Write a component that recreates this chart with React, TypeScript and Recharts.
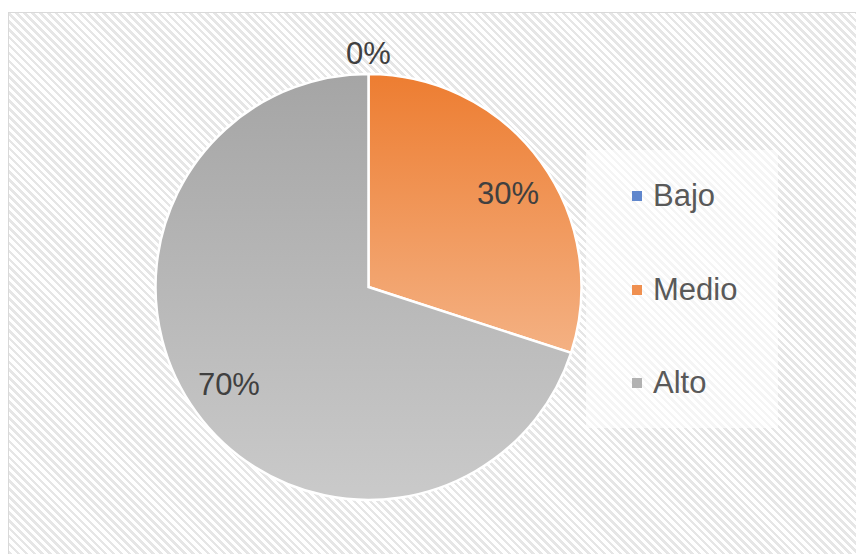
import React from "react";
import { PieChart, Pie, Cell, Legend } from "recharts";

const categories = ["Bajo", "Medio", "Alto"];
const values = [0, 30, 70];
const percentLabels = ["0%", "30%", "70%"];
const legendMarkerColors = ["#4472C4", "#ED7D31", "#A5A5A5"];
const fills = ["url(#gBlue)", "url(#gOrange)", "url(#gGray)"];

const data = categories.map((name, i) => ({ name, value: values[i], label: percentLabels[i] }));

const FONT = '"Liberation Sans", Arial, sans-serif';
const RAD = Math.PI / 180;

const renderLabel = (props: any) => {
  const { cx, cy, midAngle, outerRadius, index } = props;
  const isZero = values[index] === 0;
  const r = isZero ? outerRadius + 21 : outerRadius * 0.81;
  const x = cx + r * Math.cos(-midAngle * RAD);
  const y = isZero
    ? cy + r * Math.sin(-midAngle * RAD)
    : cy + r * Math.sin(-midAngle * RAD) * 0.94 + 2;
  return (
    <text
      x={x}
      y={y}
      textAnchor="middle"
      dominantBaseline="central"
      fill="#404040"
      fontSize={31}
      fontFamily={FONT}
    >
      {percentLabels[index]}
    </text>
  );
};

const LegendContent = () => (
  <div
    style={{
      position: "relative",
      width: 192,
      height: 278,
      background: "rgba(255,255,255,0.6)",
      fontFamily: FONT,
    }}
  >
    {categories.map((c, i) => {
      const cyItem = [46, 140, 233][i];
      return (
        <div key={c}>
          <div
            style={{
              position: "absolute",
              left: 46,
              top: cyItem - 5,
              width: 10,
              height: 10,
              background: legendMarkerColors[i],
              opacity: 0.85,
            }}
          />
          <div
            style={{
              position: "absolute",
              left: 67,
              top: cyItem - 18,
              fontSize: 31,
              lineHeight: "36px",
              color: "#595959",
            }}
          >
            {c}
          </div>
        </div>
      );
    })}
  </div>
);

export default function App() {
  return (
    <div
      style={{
        position: "relative",
        top: 4,
        width: 856,
        height: 546,
        boxSizing: "border-box",
        borderTop: "1px solid #d9d9d9",
        borderLeft: "1px solid #d9d9d9",
        background:
          "repeating-linear-gradient(45deg, #ffffff 0px, #ffffff 3px, #e6e6e6 3px, #e6e6e6 5.6px)",
        overflow: "hidden",
      }}
    >
      <PieChart width={855} height={545}>
        <defs>
          <linearGradient id="gOrange" x1="0" y1="0" x2="0" y2="1">
            <stop offset="0%" stopColor="#ED7D31" />
            <stop offset="100%" stopColor="#F4B183" />
          </linearGradient>
          <linearGradient id="gGray" x1="0" y1="0" x2="0" y2="1">
            <stop offset="0%" stopColor="#A5A5A5" />
            <stop offset="100%" stopColor="#CACACA" />
          </linearGradient>
          <linearGradient id="gBlue" x1="0" y1="0" x2="0" y2="1">
            <stop offset="0%" stopColor="#4472C4" />
            <stop offset="100%" stopColor="#9DC3E6" />
          </linearGradient>
        </defs>
        <Pie
          data={data}
          dataKey="value"
          nameKey="name"
          cx={354.5}
          cy={269}
          outerRadius={213}
          startAngle={90}
          endAngle={-270}
          stroke="#ffffff"
          strokeWidth={2.5}
          label={renderLabel}
          labelLine={false}
          isAnimationActive={false}
        >
          {data.map((d, i) => (
            <Cell key={d.name} fill={fills[i]} />
          ))}
        </Pie>
        <Legend
          content={<LegendContent />}
          wrapperStyle={{ position: "absolute", left: 577, top: 137, width: 192, height: 278 }}
        />
      </PieChart>
    </div>
  );
}
